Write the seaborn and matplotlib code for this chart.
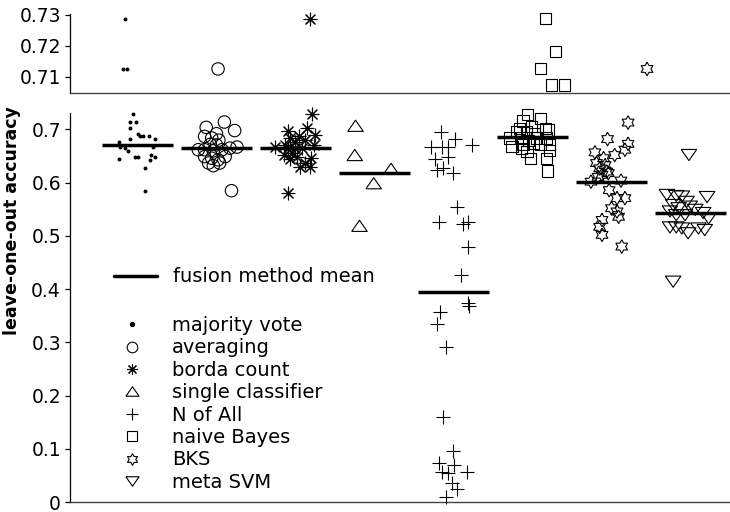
import numpy as np
import pandas as pd
import matplotlib
matplotlib.use("Agg")
import matplotlib.pyplot as plt
import seaborn as sns
from matplotlib.lines import Line2D

# ---------------- data ----------------
methods = ["majority vote", "averaging", "borda count", "single classifier",
           "N of All", "naive Bayes", "BKS", "meta SVM"]
mean_acc = [0.670, 0.665, 0.665, 0.618, 0.394, 0.685, 0.602, 0.543]

# jitter offsets (fraction of group spacing) and accuracies, lower panel
mv_off = [-0.06, -0.10, -0.02, -0.10, -0.10, 0.01, 0.03, 0.07, 0.14, 0.22, -0.24, -0.22,
          -0.16, -0.12, 0.20, -0.24, -0.03, 0.01, 0.17, 0.22, 0.16, 0.10, 0.10]
mv_acc = [0.729, 0.714, 0.714, 0.702, 0.682, 0.691, 0.687, 0.687, 0.687, 0.682, 0.676, 0.667,
          0.665, 0.660, 0.667, 0.645, 0.649, 0.649, 0.652, 0.649, 0.643, 0.628, 0.585]

av_off = [0.10, -0.13, 0.23, 0.00, -0.15, -0.06, 0.03, -0.08, 0.00, -0.23, -0.15, -0.04,
          0.07, 0.17, 0.26, -0.15, -0.06, 0.02, 0.11, -0.10, -0.04, 0.04, 0.19]
av_acc = [0.714, 0.704, 0.698, 0.692, 0.687, 0.684, 0.680, 0.672, 0.671, 0.662, 0.662, 0.660,
          0.662, 0.665, 0.667, 0.649, 0.646, 0.643, 0.649, 0.637, 0.632, 0.637, 0.585]

bc_off = [0.21, -0.10, 0.14, 0.25, 0.04, -0.07, 0.12, -0.01, 0.23, -0.26, -0.13, -0.09,
          -0.01, 0.08, -0.15, -0.05, 0.02, -0.07, 0.20, 0.12, 0.06, 0.18, -0.09]
bc_acc = [0.729, 0.698, 0.702, 0.690, 0.687, 0.684, 0.680, 0.677, 0.671, 0.668, 0.670, 0.666,
          0.666, 0.666, 0.652, 0.655, 0.649, 0.645, 0.646, 0.637, 0.630, 0.630, 0.580]

sc_off = [-0.24, -0.25, 0.21, -0.01, -0.19]
sc_acc = [0.707, 0.652, 0.626, 0.599, 0.519]

na_off = [-0.16, 0.02, 0.23, -0.28, -0.15, -0.07, -0.23, -0.07, -0.21, -0.13, -0.01, 0.04,
          -0.18, 0.12, 0.19, 0.19, 0.10, 0.18, 0.20, -0.17, -0.21, -0.09, -0.13, 0.00,
          -0.18, 0.01, -0.15, -0.07, 0.17, -0.02, 0.04, -0.09]
na_acc = [0.696, 0.682, 0.671, 0.667, 0.667, 0.667, 0.644, 0.649, 0.624, 0.627, 0.618, 0.554,
          0.527, 0.523, 0.527, 0.480, 0.427, 0.374, 0.368, 0.357, 0.335, 0.292, 0.159, 0.095,
          0.074, 0.070, 0.057, 0.054, 0.057, 0.035, 0.024, 0.009]

nb_off = [-0.06, -0.12, 0.10, -0.16, -0.01, 0.16, 0.20, -0.20, -0.08, 0.03, -0.29, -0.14,
          -0.05, 0.05, 0.18, -0.26, -0.12, 0.01, 0.10, 0.22, -0.14, -0.07, 0.22, -0.03,
          0.18, 0.19]
nb_acc = [0.728, 0.716, 0.720, 0.702, 0.705, 0.702, 0.699, 0.696, 0.697, 0.693, 0.684, 0.684,
          0.680, 0.684, 0.684, 0.668, 0.671, 0.674, 0.671, 0.671, 0.665, 0.658, 0.660, 0.646,
          0.646, 0.622]

bk_off = [0.21, -0.05, 0.21, 0.17, -0.21, 0.04, -0.10, -0.19, -0.08, -0.15, -0.06, -0.12,
          -0.26, 0.12, -0.03, 0.07, 0.17, 0.00, 0.07, 0.09, -0.12, -0.15, -0.12, 0.13,
          -0.04, -0.17]
bk_acc = [0.713, 0.682, 0.673, 0.662, 0.657, 0.652, 0.646, 0.637, 0.633, 0.627, 0.621, 0.615,
          0.602, 0.604, 0.586, 0.571, 0.571, 0.552, 0.546, 0.536, 0.530, 0.517, 0.502, 0.480,
          0.618, 0.611]

ms_off = [-0.02, -0.30, -0.18, -0.11, -0.05, 0.21, -0.22, -0.15, -0.01, 0.06, -0.26, -0.18,
          -0.07, 0.16, 0.23, -0.26, -0.18, -0.11, -0.03, 0.10, 0.18, -0.22]
ms_acc = [0.652, 0.577, 0.575, 0.574, 0.564, 0.573, 0.558, 0.552, 0.555, 0.549, 0.546, 0.539,
          0.539, 0.543, 0.533, 0.516, 0.516, 0.514, 0.505, 0.514, 0.511, 0.414]

# points shown in the upper (zoomed) panel
top_method = ["majority vote", "majority vote", "majority vote", "averaging", "borda count",
              "naive Bayes", "naive Bayes", "naive Bayes", "naive Bayes", "naive Bayes", "BKS"]
top_off = [-0.16, -0.18, -0.13, 0.02, 0.18, 0.16, 0.29, 0.10, 0.24, 0.40, 0.45]
top_acc = [0.7287, 0.7125, 0.7125, 0.7125, 0.7287, 0.7287, 0.7181, 0.7127, 0.7073, 0.7073, 0.7125]

offsets = [mv_off, av_off, bc_off, sc_off, na_off, nb_off, bk_off, ms_off]
accs = [mv_acc, av_acc, bc_acc, sc_acc, na_acc, nb_acc, bk_acc, ms_acc]

rows = []
for i, (m, o, a) in enumerate(zip(methods, offsets, accs)):
    for oo, aa in zip(o, a):
        rows.append({"method": m, "x": i + 1 + oo, "acc": aa})
df = pd.DataFrame(rows)
df_top = pd.DataFrame({"method": top_method,
                       "x": [methods.index(m) + 1 + o for m, o in zip(top_method, top_off)],
                       "acc": top_acc})

# ---------------- marker shapes ----------------
tri_up = [(-1, -0.72), (1, -0.72), (0, 0.72), (-1, -0.72)]
tri_dn = [(-1, 0.72), (1, 0.72), (0, -0.72), (-1, 0.72)]
ang = np.pi / 2 + np.arange(12) * np.pi / 6
rad = np.where(np.arange(12) % 2 == 0, 1.0, 1 / np.sqrt(3))
hexagram = list(zip(rad * np.cos(ang), rad * np.sin(ang)))
hexagram.append(hexagram[0])

styles = {
    "majority vote":     dict(marker="o", s=8, filled=True),
    "averaging":         dict(marker="o", s=80, filled=False),
    "borda count":       dict(marker=(8, 2, 0), s=85, filled=None),
    "single classifier": dict(marker=tri_up, s=125, filled=False),
    "N of All":          dict(marker="+", s=110, filled=None),
    "naive Bayes":       dict(marker="s", s=64, filled=False),
    "BKS":               dict(marker=hexagram, s=95, filled=False),
    "meta SVM":          dict(marker=tri_dn, s=125, filled=False),
}

sns.set_style("ticks")
plt.rcParams["font.family"] = ["DejaVu Sans"]
plt.rcParams["text.color"] = "black"
plt.rcParams["axes.labelcolor"] = "black"
plt.rcParams["xtick.color"] = "black"
plt.rcParams["ytick.color"] = "black"
plt.rcParams["axes.edgecolor"] = "black"

W, H = 730, 512
fig = plt.figure(figsize=(W / 100, H / 100), dpi=100)
ax_top = fig.add_axes([70 / W, 1 - 92.7 / H, 1 - 70 / W, (92.7 - 14) / H])
ax = fig.add_axes([70 / W, 1 - 502 / H, 1 - 70 / W, (502 - 113) / H])


def draw(axis, data):
    for m in methods:
        d = data[data["method"] == m]
        if d.empty:
            continue
        st = styles[m]
        kw = dict(marker=st["marker"], s=st["s"], clip_on=False, legend=False, zorder=3)
        if st["filled"] is True:
            kw.update(color="k", edgecolor="k", linewidth=0)
        elif st["filled"] is False:
            kw.update(color="k", facecolor="none", edgecolor="k", linewidth=0.8)
        else:
            kw.update(color="k", linewidth=0.8)
        sns.scatterplot(data=d, x="x", y="acc", ax=axis, **kw)


draw(ax, df)
draw(ax_top, df_top)

# fusion method means
pos = np.arange(1, len(methods) + 1)
ax.hlines(mean_acc, pos - 0.45, pos + 0.45, colors="k", linewidth=2.5, zorder=4)

for a in (ax, ax_top):
    a.set_xlim(0.146, 8.5)
    a.set_xticks([])
    a.set_xlabel("")
    a.set_ylabel("")
    for sp in ("top", "right"):
        a.spines[sp].set_visible(False)
    a.spines["left"].set_linewidth(0.9)
    a.spines["left"].set_color("black")
    a.spines["bottom"].set_linewidth(1.0)
    a.spines["bottom"].set_color("#444444")
    a.tick_params(axis="y", direction="out", length=3.5, width=0.9, labelsize=13.5, pad=3,
                  colors="black")

ax.set_ylim(0, 0.731)
yt = [0, 0.1, 0.2, 0.3, 0.4, 0.5, 0.6, 0.7]
ax.set_yticks(yt)
ax.set_yticklabels(["0", "0.1", "0.2", "0.3", "0.4", "0.5", "0.6", "0.7"])

ax_top.set_ylim(0.7048, 0.7303)
ax_top.set_yticks([0.71, 0.72, 0.73])
ax_top.set_yticklabels(["0.71", "0.72", "0.73"])

fig.text(12 / W, 1 - 221 / H, "leave-one-out accuracy", rotation=90, ha="center", va="center",
         fontsize=12.5, fontweight="bold", color="black")

# legends
leg1 = ax.legend(handles=[Line2D([], [], color="k", linewidth=2.5)], labels=["fusion method mean"],
                 loc="upper left", bbox_to_anchor=(114 / W, 1 - 267.4 / H),
                 bbox_transform=fig.transFigure, frameon=False, fontsize=14,
                 handlelength=2.2, handletextpad=0.82, borderpad=0, borderaxespad=0)
ax.add_artist(leg1)

handles = []
for m in methods:
    st = styles[m]
    ms = np.sqrt(st["s"]) * 0.85
    if st["filled"] is True:
        h = Line2D([], [], linestyle="none", marker="o", markersize=2.8, color="k")
    elif st["filled"] is False:
        h = Line2D([], [], linestyle="none", marker=st["marker"], markersize=ms,
                   markerfacecolor="none", markeredgecolor="k", markeredgewidth=0.8)
    else:
        h = Line2D([], [], linestyle="none", marker=st["marker"], markersize=ms,
                   color="k", markeredgewidth=0.8)
    handles.append(h)
ax.legend(handles=handles, labels=methods, loc="upper left",
          bbox_to_anchor=(112.6 / W, 1 - 316 / H), bbox_transform=fig.transFigure,
          frameon=False, fontsize=14, handlelength=2.0, handletextpad=1.05,
          labelspacing=0.175, borderpad=0, borderaxespad=0)

fig.savefig("out.png", dpi=100)
